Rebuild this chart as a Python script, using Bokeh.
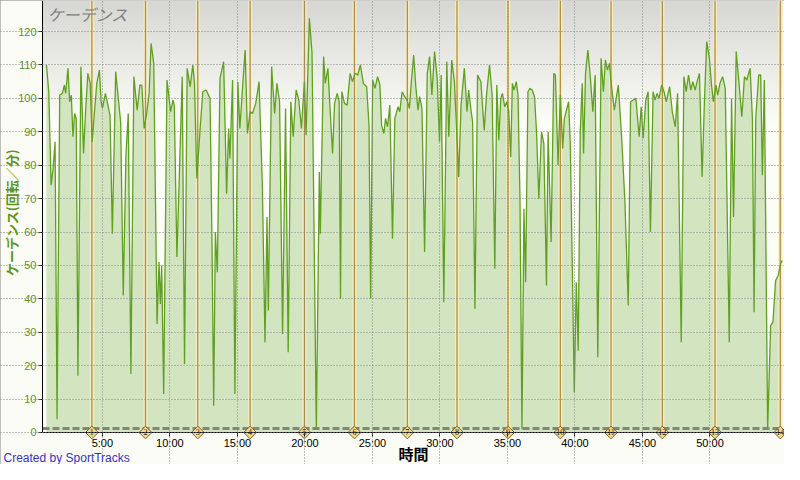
import numpy as np
from bokeh.plotting import figure
from bokeh.models import Range1d, FixedTicker, ColumnDataSource, LabelSet, Label
from bokeh.embed import file_html
from bokeh.resources import INLINE

# ---------------- data ----------------
time_min = [
    0.860, 1.032, 1.204, 1.351, 1.498, 1.645, 1.841, 2.037, 2.184, 2.283,
    2.454, 2.577, 2.699, 2.822, 2.945, 3.067, 3.190, 3.410, 3.607, 3.754,
    3.925, 4.097, 4.244, 4.416, 4.587, 4.784, 4.906, 5.004, 5.225, 5.568,
    5.740, 5.985, 6.181, 6.353, 6.549, 6.745, 6.917, 7.113, 7.334, 7.579,
    7.775, 7.922, 8.094, 8.265, 8.462, 8.609, 8.805, 9.050, 9.197, 9.295,
    9.393, 9.540, 9.786, 10.055, 10.227, 10.325, 10.521, 10.914, 11.085, 11.281,
    11.502,
    11.700, 11.823, 11.994, 12.240, 12.436, 12.681, 12.975, 13.122, 13.245, 13.368,
    13.515, 13.711, 13.981, 14.201, 14.348, 14.446, 14.643, 14.814, 15.035, 15.182,
    15.378, 15.574, 15.746, 15.942, 16.114, 16.359, 16.604, 16.849, 17.046, 17.193,
    17.291, 17.536, 17.757, 17.928, 18.124, 18.345, 18.566, 18.762, 18.958, 19.130,
    19.350, 19.547, 19.743, 19.964, 20.086, 20.332, 20.527, 20.846, 21.067, 21.140,
    21.386, 21.508, 21.704, 21.876, 22.048, 22.195, 22.391, 22.538, 22.636,
    22.735, 22.931, 23.128, 23.348, 23.520, 23.716, 23.912, 24.108, 24.329, 24.574,
    24.746, 24.868, 25.016, 25.187, 25.383, 25.555, 25.678, 25.849, 25.972, 26.119,
    26.291, 26.487, 26.658, 26.904, 27.026, 27.198, 27.394, 27.566, 27.737, 27.884,
    28.056, 28.203, 28.375, 28.497, 28.669, 28.865, 29.061, 29.233, 29.405, 29.601,
    29.797, 29.969, 30.091, 30.287, 30.508, 30.655, 30.876, 31.072, 31.219, 31.391,
    31.562, 31.808, 32.004, 32.127, 32.298, 32.421, 32.593, 32.788, 33.034, 33.279,
    33.451, 33.671,
    33.868, 34.064, 34.212, 34.359, 34.506, 34.628, 34.800, 34.947, 35.094, 35.241,
    35.364, 35.487, 35.658, 35.781, 35.928, 36.075, 36.222, 36.345, 36.516, 36.664,
    36.835, 37.007, 37.154, 37.326, 37.522, 37.694, 37.890, 38.012, 38.233, 38.429,
    38.552, 38.748, 38.919, 39.091, 39.214, 39.532, 39.655, 39.827, 39.949, 40.096,
    40.243, 40.391, 40.538, 40.636, 40.783, 40.955, 41.126, 41.322, 41.494, 41.690,
    41.935, 42.107, 42.254, 42.401, 42.548, 42.720, 42.916, 43.210, 43.456, 43.701,
    43.946, 44.118, 44.314, 44.510,
    44.756, 44.903, 45.050, 45.247, 45.418, 45.590, 45.786, 45.933, 46.080, 46.227,
    46.424, 46.595, 46.767, 47.012, 47.208, 47.429, 47.600, 47.870, 48.066, 48.238,
    48.410, 48.581, 48.728, 48.900, 49.047, 49.219, 49.415, 49.587, 49.758, 49.954,
    50.102, 50.249, 50.445, 50.567, 50.739, 50.935, 51.131, 51.426, 51.597, 51.744,
    51.941, 52.161, 52.357, 52.554, 52.725, 52.970, 53.142, 53.265, 53.387, 53.608,
    53.755, 53.878, 54.025, 54.270, 54.491, 54.662, 54.858, 55.054, 55.226, 55.349,
]

cadence = [
    110, 102, 74, 79, 87, 4, 101, 101.5, 104, 101.5,
    109, 99, 101, 88.5, 95.5, 94, 17, 109.5, 83.5, 96,
    107.5, 104.5, 87, 96, 104.5, 108.5, 99, 97, 101.5, 95,
    59.5, 108, 100, 93, 41, 83, 95.5, 17.5, 106.5, 96.5,
    104, 104, 91, 95, 101.5, 116.5, 110.5, 32.5, 51, 38.5,
    50, 11.5, 105.5, 96, 99.5, 98, 52.5, 106.5, 20.5, 109,
    103.5,
    110, 104.5, 76, 91, 102, 102.5, 100, 56, 8, 60,
    48, 106, 111, 71.5, 91, 82, 105.5, 11.5, 105, 91,
    103, 114.5, 89.5, 96, 95.5, 98.5, 105, 74, 27, 64.5,
    36.5, 109.5, 95.5, 104.5, 99, 29.5, 97, 24, 99, 88.5,
    102.5, 99.5, 91, 105, 89, 124, 113.5, 1, 78, 59.5,
    112.5, 104.5, 109, 96, 83.5, 98.5, 101.5, 99, 40,
    102, 98.5, 98, 107.5, 105, 107.5, 107, 110, 104.5, 103.5,
    92, 40, 105.5, 103, 106.5, 104, 92, 89.5, 94, 91.5,
    98, 58, 94, 97.5, 96, 102, 100.5, 99.5, 97, 105,
    113, 104, 96.5, 100.5, 97, 54, 107.5, 112.5, 101, 114,
    106, 87, 107, 39, 111, 88.5, 111.5, 105, 92, 76.5,
    98, 109, 96, 102.5, 96.5, 93, 37, 107, 105, 90.5,
    101, 110,
    101, 49, 104, 87.5, 100, 101.5, 97.5, 99, 96, 82.5,
    104.5, 102.5, 105, 101, 70, 1, 67, 45, 102, 103,
    102.5, 100.5, 90, 70, 90, 86.5, 44, 90, 57, 107.5,
    107, 80, 101, 85, 94, 99, 86, 44, 12, 45,
    24.5, 90, 104.5, 83.5, 107.5, 114.5, 107, 96, 107, 22.5,
    112, 102, 111.5, 108.5, 110.5, 103, 96.5, 104, 88.5, 69,
    38, 99, 99.5, 100,
    88.5, 97.5, 88, 99.5, 102, 60, 102, 99.5, 101.5, 100,
    104, 102, 99, 103.5, 96, 91.5, 101.5, 27, 106.5, 102,
    107, 102.5, 105, 102.5, 105, 107.5, 76.5, 99, 117, 112,
    104.5, 99, 104, 101, 104.5, 106.5, 103, 27, 100, 64.5,
    114, 104, 94.5, 106.5, 105.5, 109, 94, 36, 94, 107,
    107, 77, 105.5, 1, 32, 33, 45.5, 47, 50.5, 51.5,
]

lap_time_min = [4.223, 8.195, 12.065, 15.942, 19.966, 23.666, 27.588,
                31.266, 35.047, 38.917, 42.669, 46.472, 50.371, 55.205]
lap_numbers = ["1", "2", "3", "4", "5", "6", "7", "8", "9", "10", "11", "12", "13", "14"]

x_ticks = [5, 10, 15, 20, 25, 30, 35, 40, 45, 50]
x_tick_labels = ["5:00", "10:00", "15:00", "20:00", "25:00", "30:00",
                 "35:00", "40:00", "45:00", "50:00"]
y_ticks = [0, 10, 20, 30, 40, 50, 60, 70, 80, 90, 100, 110, 120]
zero_line_value = 1.2

# plotted extent of the chart area
X_START, X_END = 0.566, 55.37
Y_TOP = 129.3
# whole canvas expressed in data units (axes are drawn at fixed locations)
CANVAS_X = (-2.544, 55.518)
CANVAS_Y = (-9.578, Y_TOP)

# ---------------- figure ----------------
p = figure(width=784, height=464, output_backend="svg", toolbar_location=None,
           x_range=Range1d(*CANVAS_X), y_range=Range1d(*CANVAS_Y),
           min_border_left=0, min_border_right=0, min_border_top=0,
           min_border_bottom=0)
p.background_fill_color = "#fbfbf5"
p.border_fill_color = "#fbfbf5"
p.outline_line_color = None
p.styles = {"outline": "2px solid #7f7f7f", "outline-offset": "-2px"}

# chart area background + gradient (top grey -> white)
p.quad(left=X_START, right=X_END, bottom=0, top=Y_TOP, fill_color="#fdfdf8",
       line_color=None, level="image")
n_band = 40
g_bottom = 92.0
edges = np.linspace(g_bottom, Y_TOP, n_band + 1)
band_cols = []
for i in range(n_band):
    f = ((edges[i] + edges[i + 1]) / 2 - g_bottom) / (Y_TOP - g_bottom)
    r = int(round(253 + (214 - 253) * f))
    g = int(round(253 + (214 - 253) * f))
    b = int(round(248 + (210 - 248) * f))
    band_cols.append("#%02x%02x%02x" % (r, g, b))
p.quad(left=X_START, right=X_END, bottom=edges[:-1], top=np.minimum(edges[1:] + 0.4, Y_TOP),
       fill_color=band_cols, line_color=None, level="image")

# cadence area
p.varea(x=time_min, y1=0, y2=cadence, fill_color="#d3e4c0")

# lap lines
p.segment(x0=lap_time_min, y0=0, x1=lap_time_min, y1=Y_TOP,
          line_color="#f6ecc4", line_width=4, line_alpha=0.9)
p.segment(x0=lap_time_min, y0=0, x1=lap_time_min, y1=Y_TOP,
          line_color="#b0903e", line_width=1.3)

p.line(time_min, cadence, line_color="#5fa021", line_width=1.3)

# dashed low line
p.segment(x0=[X_START], y0=[zero_line_value], x1=[X_END], y1=[zero_line_value],
          line_color="#85857a", line_width=3, line_dash="7 3")

# grid
p.xgrid.ticker = FixedTicker(ticks=x_ticks)
p.ygrid.ticker = FixedTicker(ticks=y_ticks)
p.xgrid.bounds = (0, Y_TOP)
p.ygrid.bounds = (X_START, X_END)
for grid in (p.xgrid, p.ygrid):
    grid.grid_line_color = "#858585"
    grid.grid_line_dash = "1 2"
    grid.grid_line_width = 1
    grid.level = "guide"

# axes at fixed locations
p.xaxis.ticker = FixedTicker(ticks=x_ticks)
p.xaxis.major_label_overrides = dict(zip(x_ticks, x_tick_labels))
p.yaxis.ticker = FixedTicker(ticks=y_ticks)
p.xaxis.fixed_location = 0
p.yaxis.fixed_location = X_START
p.xaxis.bounds = (X_START, X_END)
p.yaxis.bounds = (0, Y_TOP)
for ax in (p.xaxis, p.yaxis):
    ax.axis_line_color = "black"
    ax.major_tick_line_color = "black"
    ax.minor_tick_line_color = None
    ax.major_tick_in = 0
    ax.major_tick_out = 4
    ax.major_label_text_font = "Liberation Sans"
    ax.major_label_text_font_size = "11px"
p.xaxis.major_label_standoff = 1
p.yaxis.major_label_standoff = 2
p.xaxis.major_label_text_color = "black"
p.yaxis.major_label_text_color = "#5f931f"

# lap markers (diamonds + numbers)
lap_src = ColumnDataSource(dict(x=lap_time_min, y=[0] * len(lap_time_min), n=lap_numbers))
p.scatter(x="x", y="y", source=lap_src, marker="square", angle=np.pi / 4, size=9,
          fill_color="#f1d88c", line_color="#7d6420", line_width=1)
p.add_layout(LabelSet(x="x", y="y", text="n", source=lap_src, text_align="center",
                      text_baseline="middle", text_font="DejaVu Sans",
                      text_font_size="8px", text_color="#222222"))

# inner title
p.add_layout(Label(x=0.94, y=Y_TOP - 0.4, text="ケーデンス", text_baseline="top",
                   text_font="Noto Sans CJK JP", text_font_size="16px",
                   text_font_style="italic", text_color="#7d7d7d"))

# axis titles
p.add_layout(Label(x=28.04, y=-6.3, text="時間", text_align="center",
                   text_baseline="middle", text_font="Noto Sans CJK JP",
                   text_font_style="bold", text_font_size="15px", text_color="black"))
p.add_layout(Label(x=-1.76, y=65.85, text="ケーデンス(回転／分)", angle=np.pi / 2,
                   text_align="center", text_baseline="middle",
                   text_font="Noto Sans CJK JP", text_font_style="bold",
                   text_font_size="13px", text_color="#5a951a"))

# credit
p.add_layout(Label(x=-2.32, y=-7.6, text="Created by SportTracks", text_align="left",
                   text_baseline="middle", text_font="Liberation Sans",
                   text_font_size="12px", text_color="#3434c8"))

open("out.html", "w").write(file_html(p, INLINE))
